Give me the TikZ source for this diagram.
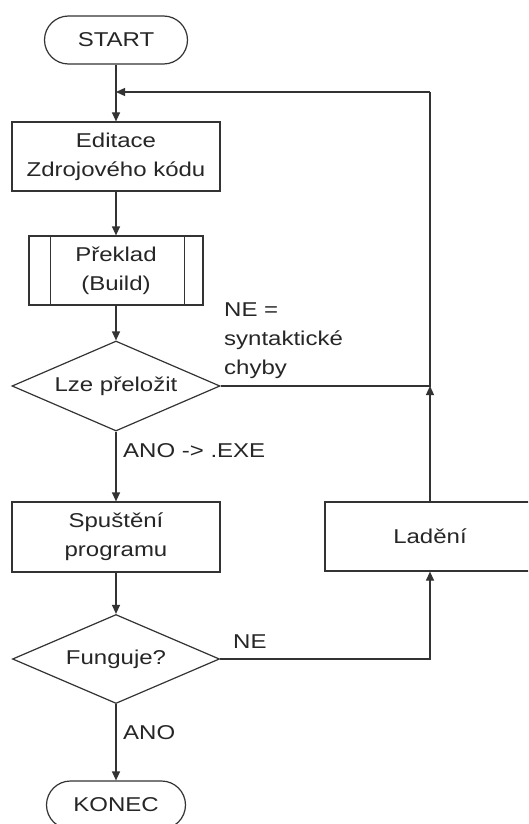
\documentclass[tikz,border=0pt]{standalone}
\usepackage{fontspec}
\setmainfont{Liberation Sans}[FakeStretch=1.2]
\usetikzlibrary{shapes.geometric,arrows.meta}

\begin{document}
\begin{tikzpicture}[x=1pt,y=-1pt,
 every node/.style={font=\fontsize{20}{29}\selectfont, text=black!85},
 line/.style={line width=1.2pt, draw=black!80},
 arr/.style={line, -{Triangle[length=9pt,width=8pt]}},
 term/.style={line, rectangle, rounded corners=24pt, minimum width=143pt, minimum height=48pt, inner sep=0pt},
 proc/.style={line, rectangle, minimum width=208pt, minimum height=69pt, inner sep=0pt, align=center},
 dec/.style={line, diamond, aspect=2.31, minimum width=208pt, minimum height=90pt, inner sep=0pt},
 lbl/.style={inner sep=0pt, align=left}]
\useasboundingbox (0,0) rectangle (528,824);
\clip (0,0) rectangle (528,824);
\fill[white] (0,0) rectangle (528,824);
\node[term] (start) at (116,40) {START};
\node[proc] (edit) at (116,156.5) {Editace\\Zdrojového kódu};
\node[proc, minimum width=174pt] (build) at (116,270.5) {Překlad\\(Build)};
\draw[line] ([xshift=22pt]build.north west) -- ([xshift=22pt]build.south west);
\draw[line] ([xshift=-19pt]build.north east) -- ([xshift=-19pt]build.south east);
\node[dec] (can) at (116,386) {Lze přeložit};
\node[proc, minimum height=70pt] (run) at (116,537) {Spuštění\\programu};
\node[dec, minimum width=207pt, minimum height=89pt] (works) at (116,659) {Funguje?};
\node[term, minimum width=139pt] (end) at (116,805) {KONEC};
\node[proc, minimum width=210pt] (debug) at (430,536.5) {Ladění};
\coordinate (j1) at (430,386);
\coordinate (j2) at (430,92);
\coordinate (j3) at (116,92);

\draw[arr] (start.south) -- (edit.north);
\draw[arr] (edit.south) -- (build.north);
\draw[arr] (build.south) -- (can.north);
\draw[arr] (can.south) -- (run.north);
\draw[arr] (run.south) -- (works.north);
\draw[arr] (works.south) -- (end.north);
\draw[arr] (works.east) -| (debug.south);
\draw[arr] (debug.north) -- (j1);
\draw[line] (can.east) -- (j1) -- (j2);
\draw[arr] (j2) -- (j3);

\node[lbl, anchor=north west] (ne1) at (224,303) {NE =\\syntaktické\\chyby};
\node[lbl, anchor=base west] (anoexe) at (123,457) {ANO -> .EXE};
\node[lbl, anchor=base west] (ne2) at (233,648) {NE};
\node[lbl, anchor=base west] (ano) at (123,739) {ANO};
\end{tikzpicture}
\end{document}
